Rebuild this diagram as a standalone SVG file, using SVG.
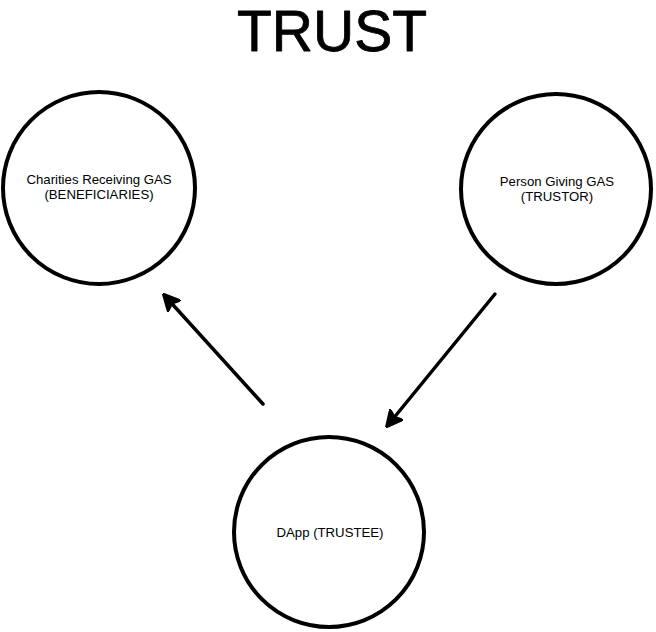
<svg xmlns="http://www.w3.org/2000/svg" width="656" height="632" viewBox="0 0 656 632">
<style>
.node circle{fill:#fff;stroke:#000;stroke-width:4}
.lbl{font-family:"Liberation Sans",Arial,sans-serif;font-size:13.2px;fill:#000;text-anchor:middle}
.title{font-family:"Liberation Sans",Arial,sans-serif;font-size:57px;fill:#000;stroke:#000;stroke-width:0.8;stroke-linejoin:round;text-anchor:middle}
.edge{stroke:#000;stroke-width:3.5;fill:none;stroke-linecap:round}
</style>
<defs>
<marker id="ah" viewBox="0 0 10 10" refX="8" refY="5" markerWidth="5" markerHeight="5" orient="auto" markerUnits="strokeWidth">
<path d="M0,0 L10,5 L0,10 L2,5 Z" fill="#000" stroke="#000" stroke-width="1" stroke-linejoin="round"/>
</marker>
</defs>
<rect width="656" height="632" fill="#fff"/>
<text class="title" x="332" y="51">TRUST</text>
<g id="beneficiaries" class="node">
<circle cx="99" cy="188" r="96"/>
<text class="lbl" x="99" y="184">Charities Receiving GAS</text>
<text class="lbl" x="99" y="199">(BENEFICIARIES)</text>
</g>
<g id="trustor" class="node">
<circle cx="556" cy="189" r="95"/>
<text class="lbl" x="557" y="186">Person Giving GAS</text>
<text class="lbl" x="557" y="201">(TRUSTOR)</text>
</g>
<g id="trustee" class="node">
<circle cx="329" cy="532" r="95"/>
<text class="lbl" x="330" y="537">DApp (TRUSTEE)</text>
</g>
<g id="connectors">
<line class="edge" x1="263" y1="404" x2="165" y2="296" marker-end="url(#ah)"/>
<line class="edge" x1="495" y1="294" x2="388" y2="425" marker-end="url(#ah)"/>
</g>
</svg>
